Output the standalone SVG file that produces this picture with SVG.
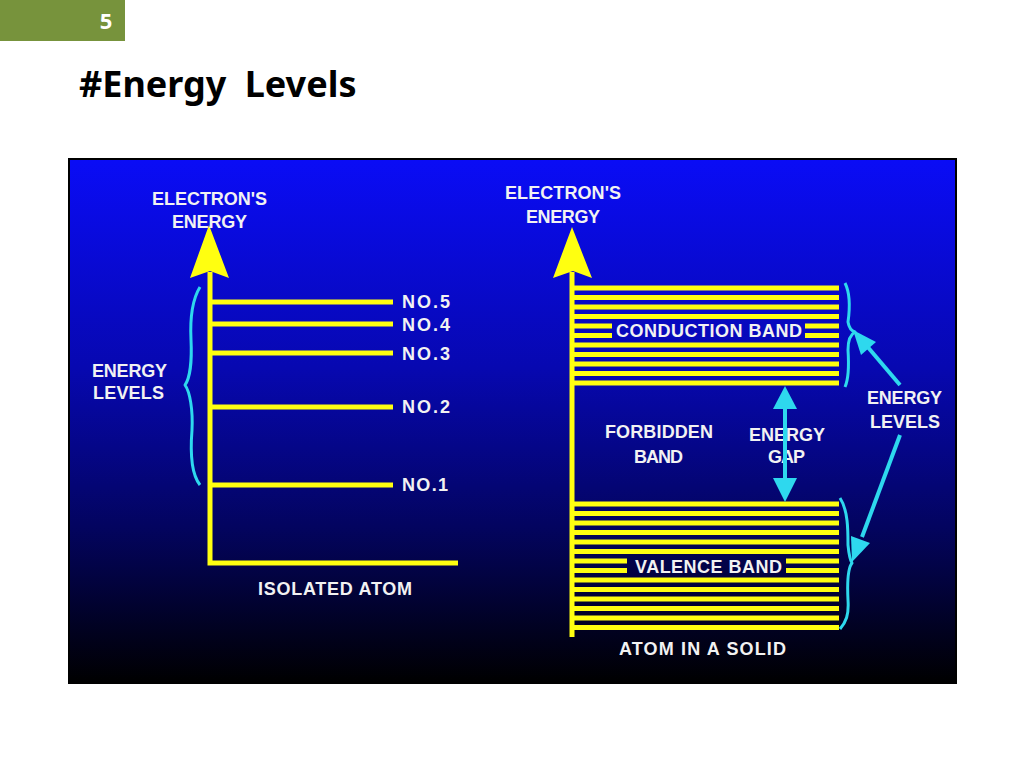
<svg xmlns="http://www.w3.org/2000/svg" width="1024" height="768" viewBox="0 0 1024 768">
<defs>
<linearGradient id="bg" x1="0" y1="0" x2="0" y2="1">
<stop offset="0" stop-color="#0a0cf6"/>
<stop offset="0.4" stop-color="#0708b0"/>
<stop offset="0.7" stop-color="#030460"/>
<stop offset="1" stop-color="#000000"/>
</linearGradient>
<style>
.lbl{font-family:"Liberation Sans",Arial,sans-serif;font-weight:bold;font-size:18px;fill:#f2f2f2;}
.y{stroke:#ffff10;stroke-width:5;fill:none;}
.ya{fill:#ffff10;}
.c{stroke:#2ed8ee;stroke-width:4;fill:none;}
.ca{fill:#2ed8ee;}
.br{stroke:#2ed8ee;stroke-width:3;fill:none;stroke-linejoin:round;}
</style>
</defs>
<rect width="1024" height="768" fill="#ffffff"/>
<g id="slide-number">
<rect x="0" y="0" width="125" height="41" fill="#77933c"/>
<text x="106" y="29" text-anchor="middle" font-family="'Noto Sans',sans-serif" font-weight="bold" font-size="22" fill="#ffffff">5</text>
</g>
<g id="title">
<text x="79" y="97" font-family="'Noto Sans',sans-serif" font-weight="bold" font-size="36" word-spacing="9" fill="#000000">#Energy Levels</text>
</g>
<g id="panel">
<rect x="69" y="159" width="887" height="524" fill="url(#bg)" stroke="#000000" stroke-width="2"/>
</g>
<g id="isolated-atom">
<polygon class="ya" points="209,225 229,278 210,271 190,278"/>
<path class="y" d="M210,272 V563 H458"/>
<path class="y" d="M210,302 H393 M210,324 H393 M210,353 H393 M210,407 H393 M210,485 H393"/>
<text class="lbl" x="152" y="205" textLength="115" lengthAdjust="spacing">ELECTRON'S</text>
<text class="lbl" x="172" y="228" textLength="75" lengthAdjust="spacing">ENERGY</text>
<text class="lbl" x="92" y="377" textLength="75" lengthAdjust="spacing">ENERGY</text>
<text class="lbl" x="93" y="399" textLength="71" lengthAdjust="spacing">LEVELS</text>
<text class="lbl" x="402" y="308" textLength="48" lengthAdjust="spacing">NO.5</text>
<text class="lbl" x="402" y="331" textLength="48" lengthAdjust="spacing">NO.4</text>
<text class="lbl" x="402" y="360" textLength="48" lengthAdjust="spacing">NO.3</text>
<text class="lbl" x="402" y="413" textLength="48" lengthAdjust="spacing">NO.2</text>
<text class="lbl" x="402" y="491" textLength="46" lengthAdjust="spacing">NO.1</text>
<text class="lbl" x="258" y="595" textLength="154" lengthAdjust="spacing">ISOLATED ATOM</text>
<path class="br" d="M200,287 C192,300 190,320 191,340 C192,360 190,378 185,385 C190,392 193,410 192,430 C190,455 192,475 200,485"/>
</g>
<g id="atom-in-solid">
<polygon class="ya" points="572,227 592,278 573,271 553,278"/>
<path class="y" d="M572,272 V637"/>
<g id="conduction-band">
<path class="y" d="M572,288 H839 M572,297.5 H839 M572,307 H839 M572,316.5 H839 M572,326 H612 M805,326 H839 M572,335.5 H612 M805,335.5 H839 M572,345 H839 M572,354.5 H839 M572,364 H839 M572,373.5 H839 M572,383 H839"/>
<text class="lbl" x="616" y="337" textLength="186" lengthAdjust="spacing">CONDUCTION BAND</text>
</g>
<g id="valence-band">
<path class="y" d="M572,504 H839 M572,513.5 H839 M572,523 H839 M572,532.5 H839 M572,542 H839 M572,551.5 H839 M572,561 H627 M786,561 H839 M572,570.5 H627 M786,570.5 H839 M572,580 H839 M572,589.5 H839 M572,599 H839 M572,608.5 H839 M572,618 H839 M572,627.5 H839"/>
<text class="lbl" x="635" y="573" textLength="147" lengthAdjust="spacing">VALENCE BAND</text>
</g>
<text class="lbl" x="505" y="199" textLength="116" lengthAdjust="spacing">ELECTRON'S</text>
<text class="lbl" x="526" y="223" textLength="74" lengthAdjust="spacing">ENERGY</text>
<text class="lbl" x="605" y="438" textLength="108" lengthAdjust="spacing">FORBIDDEN</text>
<text class="lbl" x="634" y="463" textLength="49" lengthAdjust="spacing">BAND</text>
<text class="lbl" x="749" y="441" textLength="76" lengthAdjust="spacing">ENERGY</text>
<text class="lbl" x="768" y="463" textLength="37" lengthAdjust="spacing">GAP</text>
<text class="lbl" x="867" y="404" textLength="75" lengthAdjust="spacing">ENERGY</text>
<text class="lbl" x="870" y="428" textLength="70" lengthAdjust="spacing">LEVELS</text>
<text class="lbl" x="619" y="655" textLength="167" lengthAdjust="spacing">ATOM IN A SOLID</text>
<path class="br" d="M845,283 C851,295 849,315 848,322 C849,328 852,331 855,332 C851,334 848,340 848,350 C849,365 849,378 845,387"/>
<path class="br" d="M840,498 C848,510 848,530 848,545 C849,555 850,560 852,563 C848,568 847,580 848,600 C849,615 846,622 840,629"/>
</g>
<g id="connectors">
<path class="c" d="M785,405 V482"/>
<polygon class="ca" points="785,386 797,409 773,409"/>
<polygon class="ca" points="785,502 797,478 773,478"/>
<path class="c" d="M900,385 L866,345"/>
<polygon class="ca" points="853,330 876,342 861,355"/>
<path class="c" d="M900,435 L862,537"/>
<polygon class="ca" points="852,562 851,536 870,543"/>
</g>
</svg>
